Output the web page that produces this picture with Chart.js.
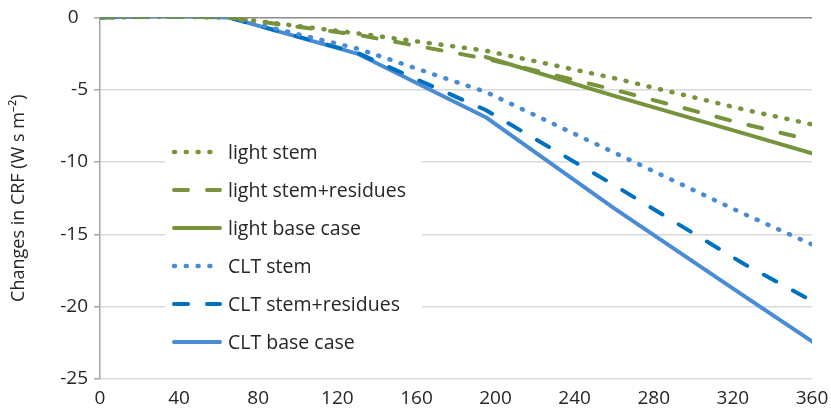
<!DOCTYPE html>
<html>
<head>
<meta charset="utf-8">
<script src="https://cdn.jsdelivr.net/npm/chart.js@4.4.1/dist/chart.umd.min.js"></script>
<style>
  html, body { margin: 0; padding: 0; background: #fff; }
  #wrap { width: 831px; height: 414px; }
</style>
</head>
<body>
<div id="wrap"><canvas id="crfChart" width="831" height="414"></canvas></div>
<script>
// ─── Data ───────────────────────────────────────────────────────────────────
const YEARS = [0, 35, 65, 130, 195, 260, 325, 360];

const lightStem      = [0, 0.05, 0, -1.1, -2.3, -4.2, -6.35, -7.4];
const lightStemRes   = [0, 0.05, 0, -1.2, -2.85, -5.0, -7.35, -8.5];
// the solid light line only shows from year 195 on
const lightBase      = [null, null, null, null, -2.74, -5.43, -8.0, -9.4];
const cltStem        = [0, 0.1, 0, -2.15, -5.15, -9.35, -13.55, -15.7];
const cltStemRes     = [0, 0.1, 0, -2.45, -6.4, -11.6, -17.0, -19.6];
const cltBase        = [0, 0.1, 0, -2.5, -6.9, -13.2, -19.2, -22.4];

const SERIES_LABELS = ['light stem', 'light stem+residues', 'light base case',
                       'CLT stem', 'CLT stem+residues', 'CLT base case'];

const Y_TICKS = [0, -5, -10, -15, -20, -25];
const X_TICKS = [0, 40, 80, 120, 160, 200, 240, 280, 320, 360];

const GREEN = '#77933C';
const BLUE  = '#4A8CD4';
const DARK  = '#0070C0';
const FONT  = "'Open Sans', 'Noto Sans', sans-serif";

const DOT  = [1, 10.8];
const DASH = [14, 19];

function toPoints(values) {
  return YEARS.map((x, i) => ({ x, y: values[i] }));
}

function series(label, values, color, dash, width) {
  return {
    label,
    data: toPoints(values),
    borderColor: color,
    backgroundColor: color,
    borderWidth: width,
    borderDash: dash,
    borderCapStyle: 'round',
    borderJoinStyle: 'round',
    pointRadius: 0,
    tension: 0,
    spanGaps: false,
    fill: false
  };
}

// ─── Legend drawn inside the plot, like the original ─────────────────────────
const insideLegend = {
  id: 'insideLegend',
  afterDatasetsDraw(chart) {
    const ctx = chart.ctx;
    const sets = chart.data.datasets;
    const x0 = 174, x1 = 220, textX = 228, rowY = 152, rowGap = 38;
    ctx.save();
    ctx.fillStyle = '#fff';
    ctx.fillRect(165, rowY - 22, 257, rowGap * 5 + 44);
    ctx.font = `19.5px ${FONT}`;
    ctx.textBaseline = 'middle';
    ctx.textAlign = 'left';
    sets.forEach((ds, i) => {
      const y = rowY + i * rowGap;
      ctx.beginPath();
      ctx.strokeStyle = ds.borderColor;
      ctx.lineWidth = ds.borderWidth;
      ctx.lineCap = 'round';
      ctx.setLineDash(ds.borderDash || []);
      ctx.moveTo(x0, y);
      ctx.lineTo(x1, y);
      ctx.stroke();
      ctx.setLineDash([]);
      ctx.fillStyle = '#262626';
      ctx.fillText(ds.label, textX, y + 1);
    });
    ctx.restore();
  }
};

const ctx = document.getElementById('crfChart').getContext('2d');

new Chart(ctx, {
  type: 'line',
  data: {
    datasets: [
      series(SERIES_LABELS[0], lightStem,    GREEN, DOT,  4.5),
      series(SERIES_LABELS[1], lightStemRes, GREEN, DASH, 4),
      series(SERIES_LABELS[2], lightBase,    GREEN, [],   4),
      series(SERIES_LABELS[3], cltStem,      BLUE,  DOT,  4.5),
      series(SERIES_LABELS[4], cltStemRes,   DARK,  DASH, 4),
      series(SERIES_LABELS[5], cltBase,      BLUE,  [],   4)
    ]
  },
  options: {
    responsive: false,
    animation: false,
    layout: { padding: { left: 0, right: 19, top: 17, bottom: 0 } },
    scales: {
      x: {
        type: 'linear',
        min: 0,
        max: 360,
        afterBuildTicks: (axis) => { axis.ticks = X_TICKS.map(v => ({ value: v })); },
        afterFit: (axis) => {
          axis.height = 35;
          axis.paddingRight = 0;
          axis.paddingLeft = 0;
        },
        grid: { display: false, drawTicks: false },
        border: { display: false },
        ticks: {
          padding: 8,
          maxRotation: 0,
          color: '#262626',
          font: { family: FONT, size: 19 }
        }
      },
      y: {
        min: -25,
        max: 0,
        afterBuildTicks: (axis) => { axis.ticks = Y_TICKS.map(v => ({ value: v })); },
        afterFit: (axis) => { axis.width = 100; },
        grid: {
          color: (c) => (c.tick && c.tick.value === 0 ? '#8C8C8C' : '#D9D9D9'),
          tickColor: '#A6A6A6',
          tickLength: 6,
          lineWidth: 1.5
        },
        border: { display: true, color: '#A6A6A6', width: 1.5 },
        ticks: {
          padding: 6,
          color: '#262626',
          font: { family: FONT, size: 19 },
          callback: (v) => (v === 0 ? '0\u2002' : String(v))
        },
        title: {
          display: true,
          text: 'Changes in CRF (W s m\u207B\u00B2)',
          color: '#262626',
          font: { family: FONT, size: 18 },
          padding: { top: 8, bottom: 0 }
        }
      }
    },
    plugins: {
      legend: { display: false },
      tooltip: { enabled: false }
    }
  },
  plugins: [insideLegend]
});
</script>
</body>
</html>
